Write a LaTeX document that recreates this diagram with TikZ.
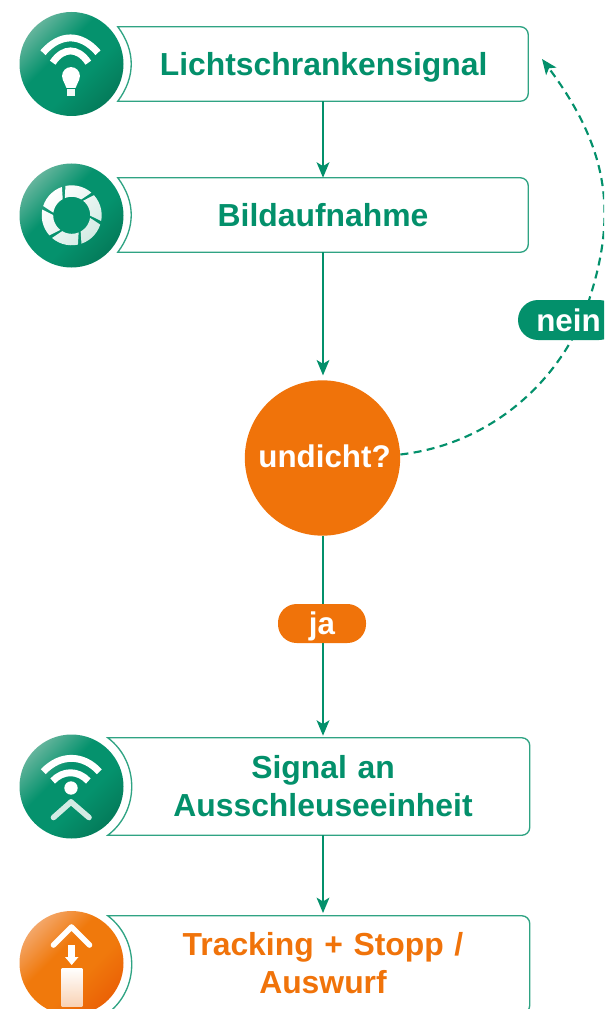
\documentclass[tikz,border=0pt]{standalone}
\usepackage{fontspec}
\setmainfont{Liberation Sans}
\usetikzlibrary{arrows.meta,calc}
\definecolor{grn}{HTML}{03906B}
\definecolor{boxln}{HTML}{2FA383}
\definecolor{org}{HTML}{F0730A}
\definecolor{ga}{HTML}{74BAA4}
\definecolor{gb}{HTML}{05926D}
\definecolor{gc}{HTML}{046F50}
\definecolor{oa}{HTML}{F4AE78}
\definecolor{ob}{HTML}{F0790C}
\definecolor{oc}{HTML}{E85503}
\definecolor{ifade}{HTML}{D3EBE4}
\definecolor{ofade}{HTML}{F9D3B5}
\pgfdeclarehorizontalshading{gball}{100bp}{color(0bp)=(ga);color(22bp)=(ga);color(42bp)=(gb);color(58bp)=(gb);color(84bp)=(gc);color(100bp)=(gc)}
\pgfdeclarehorizontalshading{oball}{100bp}{color(0bp)=(oa);color(22bp)=(oa);color(42bp)=(ob);color(58bp)=(ob);color(84bp)=(oc);color(100bp)=(oc)}
\tikzset{
  x=0.75pt,y=-0.75pt,
  ball/.style={circle,draw=none,inner sep=0pt,minimum size=78pt,shading=#1,shading angle=-45},
  boxn/.style={rectangle,draw=none,inner sep=0pt,text width=300pt,align=center,minimum width=#1*0.75pt,font=\fontsize{23.9}{28.5}\selectfont\bfseries},
  outl/.style={draw=boxln,line width=1pt},
  flow/.style={draw=grn,line width=1.7pt,-{Stealth[length=11.5pt,width=9.5pt,inset=2.8pt]}},
  pill/.style={rectangle,inner sep=0pt,text=white,text depth=0pt,font=\fontsize{23.5}{28}\selectfont\bfseries},
  wave/.style={draw=white,line width=5.2pt},
  chev/.style={line width=4.2pt,line cap=round,line join=round},
}
\newcommand{\boxline}[3]{% node, left overhang, bulge control offset x
  \path[outl,rounded corners=6pt] (#1.north) -- (#1.north east) -- (#1.south east) -- (#1.south)
    [sharp corners] -- ($(#1.south west)+(#2,0)$)
    .. controls ($(#1.south west)+(#2,0)+(#3,-24)$) and ($(#1.north west)+(#2,0)+(#3,24)$) .. ($(#1.north west)+(#2,0)$)
    -- (#1.north);}
\begin{document}
\begin{tikzpicture}
\useasboundingbox (0,0) rectangle (604,1009);
\clip (0,0) rectangle (604,1009);
% boxes
\node[boxn=410,minimum height=55.5pt,text=grn,text depth=0pt] (b1) at (323,64) {\hspace{1pt}Lichtschrankensignal};
\node[boxn=410,minimum height=55.5pt,text=grn,text depth=0pt] (b2) at (323,215) {Bildaufnahme};
\node[boxn=413,minimum height=72.75pt,text=grn] (b3) at (323,786.5) {Signal an\\Ausschleuseeinheit};
\node[boxn=413,minimum height=72.75pt,text=org] (b4) at (323,964.5) {\raisebox{2.2pt}{Tracking + Stopp /}\\\raisebox{2.2pt}{Auswurf}};
\boxline{b1}{0}{18}
\boxline{b2}{0}{18}
\boxline{b3}{-8.5}{32}
\boxline{b4}{-8.5}{32}
% balls
\node[ball=gball] (i1) at (71.5,64) {};
\node[ball=gball] (i2) at (71.5,215.5) {};
\node[ball=gball] (i3) at (71.5,786.5) {};
\node[ball=oball] (i4) at (71.5,963) {};
% icon 1
\path[wave] (43,52.7) .. controls (60,33) and (81,33) .. (98,52.7);
\path[wave] (52.7,62.7) .. controls (63,47) and (78,47) .. (88.3,62.7);
\fill[white] (71,76) circle[radius=6.7pt];
\fill[white] (63,80) -- (79,80) -- (75.5,88) -- (66.5,88) -- cycle;
\fill[white!70!ifade] (66.7,89.5) rectangle (75,96.5);
% icon 2
\shade[top color=white,bottom color=ifade,shading angle=45]
  \foreach \a in {102,42,-18,-78,-138,-198}{
    plot[domain=\a:\a-53,samples=8] ({71.7+30*cos(\x)},{215.3-30*sin(\x)})
    -- plot[domain=\a-43:\a+10,samples=8] ({71.7+18.5*cos(\x)},{215.3-18.5*sin(\x)}) -- cycle
  };
% icon 3
\path[wave] (43.3,771.7) .. controls (60,753.9) and (83,753.9) .. (99.3,771.7);
\path[wave] (52.7,781) .. controls (63,770) and (78,770) .. (88.3,781);
\fill[white] (71,788) circle[radius=5pt];
\draw[chev,draw=ifade] (71,802) -- (89,817.5);
\draw[chev,draw=ifade] (53.5,817.5) -- (71,802);
% icon 4
\draw[chev,draw=white] (53.5,945) -- (71.5,927) -- (89.5,945);
\fill[white] (68.2,945) rectangle (75.2,957);
\fill[white] (65,957) -- (78.5,957) -- (71.7,965) -- cycle;
\shade[top color=white,bottom color=ofade] (61.7,968) rectangle (82.3,1006);
% decision
\node[circle,fill=org,inner sep=0pt,minimum size=116.5pt,text=white] (dec) at (322.5,458) {};
\node[inner sep=0pt,text=white,font=\fontsize{23.5}{28}\selectfont\bfseries] (declab) at (324.5,456) {undicht?};
% pills
\node[pill,fill=org,rounded corners=14pt,minimum width=66pt,minimum height=29.25pt] (ja) at (322,623.5) {ja};
\coordinate (back) at (542,59);
\coordinate (loopstart) at ($(dec.east)+(0,-3.5)$);
% connectors
\draw[flow] (b1.south) -- (b2.north);
\draw[flow,shorten >=3.5pt] (b2.south) -- (b2.south |- dec.north);
\draw[draw=grn,line width=1.7pt] (b2.south |- dec.south) -- (b2.south |- ja.north);
\draw[flow,shorten >=1.5pt] (b2.south |- ja.south) -- (b3.north);
\draw[flow,shorten >=2pt] (b3.south) -- (b4.north);
\draw[flow,line width=1.6pt,dash pattern=on 6pt off 4pt] (loopstart) .. controls (500,443) and (568,370) .. (590,297) .. controls (616,215) and (610,150) .. (back);
\node[pill,fill=grn,rounded corners=15pt,minimum width=75.75pt,minimum height=30pt] (nn) at (568.5,320) {nein};
\end{tikzpicture}
\end{document}
